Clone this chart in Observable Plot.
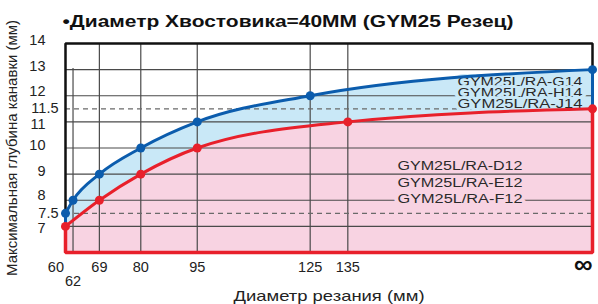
<!DOCTYPE html>
<html>
<head>
<meta charset="utf-8">
<script src="https://cdn.jsdelivr.net/npm/d3@7"></script>
<script src="https://cdn.jsdelivr.net/npm/@observablehq/plot@0.6"></script>
<style>
  html, body { margin: 0; padding: 0; background: #fff; }
</style>
</head>
<body>
<div id="chart"></div>
<script>
// ---- data ----
const title = "•Диаметр Хвостовика=40MM (GYM25 Резец)";
const xTitle = "Диаметр резания (мм)";
const yTitle = "Максимальная глубина канавки (мм)";

const xTickValues = [60, 62, 69, 80, 95, 125, 135, 200];
const xTickLabels = ["60", "62", "69", "80", "95", "125", "135", "∞"];
const yTickValues = [14, 13, 12, 11.5, 11, 10, 9, 8, 7.5, 7];

// upper curve (G14 / H14 / J14)
const blueX = [60, 62, 69, 80, 95, 125, 200];
const blueY = [7.5, 8, 9, 10, 11, 12, 13];
// lower curve (D12 / E12 / F12)
const redX = [60, 69, 80, 95, 135, 200];
const redY = [7, 8, 9, 10, 11, 11.5];

const upperLabels = ["GYM25L/RA-G14", "GYM25L/RA-H14", "GYM25L/RA-J14"];
const lowerLabels = ["GYM25L/RA-D12", "GYM25L/RA-E12", "GYM25L/RA-F12"];

// ---- derived ----
const xDomain = [xTickValues[0], xTickValues[xTickValues.length - 1]];
const yDomain = [6, 14];
const blue = blueX.map((x, i) => ({x, y: blueY[i]}));
const red = redX.map((x, i) => ({x, y: redY[i]}));
const ticks = xTickValues.map((v, i) => ({v, label: xTickLabels[i], i,
  crowded: i > 0 && v - xTickValues[i - 1] < 5}));
const firstTick = ticks.filter(d => d.i === 0);
const lastTick = ticks.filter(d => d.i === ticks.length - 1);
const midTicks = ticks.filter(d => d.i > 0 && d.i < ticks.length - 1);
const gridX = midTicks.filter(d => !d.crowded).map(d => d.v);
const crowdedX = midTicks.filter(d => d.crowded).map(d => d.v);
const gridY = yTickValues.filter(v => Number.isInteger(v) && v > yDomain[0] && v < yDomain[1]);
const dashY = yTickValues.filter(v => !Number.isInteger(v));
const intLabels = yTickValues.filter(v => Number.isInteger(v));
const halfLabels = yTickValues.filter(v => !Number.isInteger(v));
const intBelowHalf = intLabels.filter(v => yTickValues.includes(v + 0.5));
const intAboveHalf = intLabels.filter(v => yTickValues.includes(v - 0.5));
const intPlain = intLabels.filter(v => !intBelowHalf.includes(v) && !intAboveHalf.includes(v));

const x0 = xDomain[0], x1 = xDomain[1];
const blueC = "#0b5cad", redC = "#e8202b";
const blueFill = "#c9e8f7", pinkFill = "#f8d3e2";
const font = "Liberation Sans, Arial, sans-serif";
const tickFont = 14.5;
const curve = "monotone-x";

const yTickText = (vals, dx, dy) => Plot.text(vals, {x: x0, y: d => d, text: d => String(d),
  textAnchor: "end", lineAnchor: "middle", dx, dy, fontSize: tickFont, fill: "#222"});

const seriesLabel = (txt, i, anchorDx, top, step, halo) => Plot.text([txt], {
  frameAnchor: "top-right", textAnchor: "end", lineAnchor: "middle",
  dx: anchorDx, dy: top + i * step, fontSize: 12, fill: "#2a2a2a",
  stroke: halo, strokeWidth: 6, paintOrder: "stroke"});

const chart = Plot.plot({
  width: 598,
  height: 304,
  marginLeft: 65,
  marginRight: 6,
  marginTop: 43,
  marginBottom: 52,
  x: {domain: xDomain, axis: null},
  y: {domain: yDomain, axis: null},
  style: {fontFamily: font, background: "white", color: "#222", overflow: "visible"},
  marks: [
    // fills
    Plot.areaY(blue, {x: "x", y1: yDomain[0], y2: "y", fill: blueFill, curve}),
    Plot.areaY(red, {x: "x", y1: yDomain[0], y2: "y", fill: pinkFill, curve}),
    // grid
    Plot.ruleY(gridY, {x1: x0, x2: x1, stroke: "#4a4a4a", strokeWidth: 1.2}),
    Plot.ruleX(gridX, {y1: yDomain[0], y2: yDomain[1], stroke: "#4a4a4a", strokeWidth: 1.2}),
    Plot.ruleX(crowdedX, {y1: yDomain[0], y2: yDomain[1], stroke: "#4a4a4a", strokeWidth: 1.2, insetBottom: -25}),
    Plot.ruleY(dashY, {x1: x0, x2: x1, stroke: "#6a6a6a", strokeWidth: 1.3, strokeDasharray: "5,4"}),
    // series labels
    ...upperLabels.map((t, i) => seriesLabel(t, i, -10, 39, 10.8, blueFill)),
    ...lowerLabels.map((t, i) => seriesLabel(t, i, -70, 123, 16.5, pinkFill)),
    // frame
    Plot.line([[x0, blueY[0]], [x0, yDomain[1]], [x1, yDomain[1]], [x1, blueY[blueY.length - 1]]],
      {stroke: "#111", strokeWidth: 2.5, strokeLinejoin: "miter"}),
    // red outline
    Plot.line([[x0, redY[0]], [x0, yDomain[0]], [x1, yDomain[0]], [x1, redY[redY.length - 1]]],
      {stroke: redC, strokeWidth: 3.5, strokeLinejoin: "miter"}),
    // blue side edges
    Plot.line([[x0, blueY[0]], [x0, redY[0]]], {stroke: blueC, strokeWidth: 3}),
    Plot.line([[x1, blueY[blueY.length - 1]], [x1, redY[redY.length - 1]]], {stroke: blueC, strokeWidth: 3}),
    // curves
    Plot.line(blue, {x: "x", y: "y", stroke: blueC, strokeWidth: 3, curve}),
    Plot.line(red, {x: "x", y: "y", stroke: redC, strokeWidth: 3, curve}),
    Plot.dot(blue, {x: "x", y: "y", r: 4.5, fill: blueC}),
    Plot.dot(red, {x: "x", y: "y", r: 4.5, fill: redC}),
    // y tick labels
    yTickText(intPlain, -20, -3),
    yTickText(intBelowHalf, -20, 2),
    yTickText(intAboveHalf, -20, -4.5),
    yTickText(halfLabels, -7, 0),
    // x tick labels
    Plot.text(firstTick, {x: "v", y: yDomain[0], text: "label", textAnchor: "end", dx: -1.5, dy: 15, fontSize: tickFont, fill: "#222"}),
    Plot.text(midTicks.filter(d => !d.crowded), {x: "v", y: yDomain[0], text: "label", dy: 15, fontSize: tickFont, fill: "#222"}),
    Plot.text(midTicks.filter(d => d.crowded), {x: "v", y: yDomain[0], text: "label", dy: 29, fontSize: tickFont, fill: "#222"}),
    Plot.text(lastTick, {x: "v", y: yDomain[0], text: "label", textAnchor: "end", dy: 12, fontSize: 26, fontWeight: "bold", fill: "#111"}),
    // titles
    Plot.text([title], {frameAnchor: "top-left", textAnchor: "start", lineAnchor: "middle", dx: -3, dy: -22,
      fontSize: 17, fontWeight: "bold", fill: "#111"}),
    Plot.text([xTitle], {frameAnchor: "bottom", lineAnchor: "middle", dy: 44, fontSize: 15, fill: "#222"}),
    Plot.text([yTitle], {frameAnchor: "left", textAnchor: "middle", lineAnchor: "middle", rotate: -90, dx: -53,
      fontSize: 14.5, fill: "#222"})
  ]
});

// stretch texts to the widths they take in the reference
const lengths = new Map([[title, 451], [xTitle, 191], [yTitle, 256]]);
[...upperLabels, ...lowerLabels].forEach(t => lengths.set(t, 125));
d3.select(chart).selectAll("text").each(function () {
  const len = lengths.get(this.textContent);
  if (len) d3.select(this).attr("textLength", len).attr("lengthAdjust", "spacingAndGlyphs");
});
document.getElementById("chart").appendChild(chart);
</script>
</body>
</html>
